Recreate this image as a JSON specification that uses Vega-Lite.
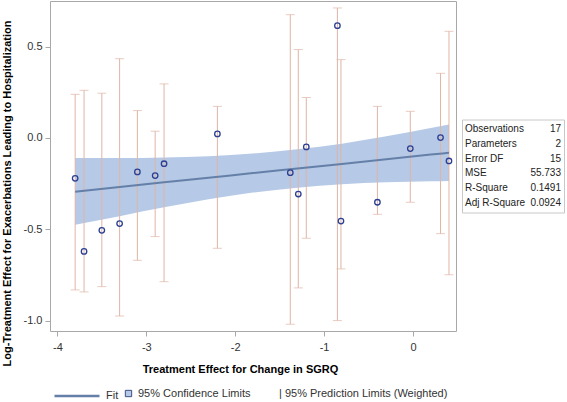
{
  "$schema": "https://vega.github.io/schema/vega-lite/v6.json",
  "padding": 0,
  "background": "white",
  "config": {
    "font": "Liberation Sans",
    "view": {"stroke": "#a8a8a8", "strokeWidth": 1},
    "locale": {"number": {"decimal": ".", "thousands": ",", "grouping": [3], "currency": ["$", ""], "minus": "-"}},
    "axis": {
      "domain": false,
      "grid": false,
      "tickColor": "#a8a8a8",
      "tickSize": 5,
      "labelFont": "Liberation Sans",
      "labelFontSize": 11,
      "labelColor": "#333333",
      "titleFont": "Liberation Sans",
      "titleFontSize": 11,
      "titleFontWeight": "bold",
      "titleColor": "#000000"
    },
    "legend": {
      "title": null,
      "labelFont": "Liberation Sans",
      "labelFontSize": 11,
      "labelColor": "#333333",
      "labelLimit": 400,
      "padding": 0
    }
  },
  "datasets": {
    "pts": [
      {"x": -3.80, "est": -0.221, "ucl": 0.239, "lcl": -0.832},
      {"x": -3.70, "est": -0.621, "ucl": 0.261, "lcl": -0.843},
      {"x": -3.50, "est": -0.506, "ucl": 0.245, "lcl": -0.814},
      {"x": -3.30, "est": -0.469, "ucl": 0.434, "lcl": -0.975},
      {"x": -3.10, "est": -0.186, "ucl": 0.150, "lcl": -0.670},
      {"x": -2.90, "est": -0.206, "ucl": 0.037, "lcl": -0.540},
      {"x": -2.80, "est": -0.141, "ucl": 0.296, "lcl": -0.787},
      {"x": -2.20, "est": 0.022, "ucl": 0.173, "lcl": -0.604},
      {"x": -1.38, "est": -0.190, "ucl": 0.675, "lcl": -1.020},
      {"x": -1.29, "est": -0.307, "ucl": 0.484, "lcl": -0.821},
      {"x": -1.20, "est": -0.049, "ucl": 0.221, "lcl": -0.549},
      {"x": -0.85, "est": 0.615, "ucl": 0.712, "lcl": -1.000},
      {"x": -0.81, "est": -0.455, "ucl": 0.429, "lcl": -0.717},
      {"x": -0.40, "est": -0.352, "ucl": 0.173, "lcl": -0.418},
      {"x": -0.03, "est": -0.058, "ucl": 0.146, "lcl": -0.352},
      {"x": 0.31, "est": 0.002, "ucl": 0.354, "lcl": -0.524},
      {"x": 0.405, "est": -0.126, "ucl": 0.584, "lcl": -0.749}
    ],
    "band": [
      {"x": -3.8, "lower": -0.475, "fit": -0.294, "upper": -0.110},
      {"x": -3.3, "lower": -0.428, "fit": -0.269, "upper": -0.110},
      {"x": -2.8, "lower": -0.380, "fit": -0.243, "upper": -0.107},
      {"x": -2.3, "lower": -0.336, "fit": -0.218, "upper": -0.100},
      {"x": -1.8, "lower": -0.299, "fit": -0.192, "upper": -0.085},
      {"x": -1.3, "lower": -0.272, "fit": -0.167, "upper": -0.062},
      {"x": -0.8, "lower": -0.253, "fit": -0.142, "upper": -0.031},
      {"x": -0.3, "lower": -0.242, "fit": -0.116, "upper": 0.009},
      {"x": 0.2, "lower": -0.237, "fit": -0.091, "upper": 0.055},
      {"x": 0.405, "lower": -0.235, "fit": -0.081, "upper": 0.074}
    ],
    "stats": [
      {"stat": "Observations", "val": "17"},
      {"stat": "Parameters", "val": "2"},
      {"stat": "Error DF", "val": "15"},
      {"stat": "MSE", "val": "55.733"},
      {"stat": "R-Square", "val": "0.1491"},
      {"stat": "Adj R-Square", "val": "0.0924"}
    ]
  },
  "spacing": 6,
  "bounds": "flush",
  "center": true,
  "hconcat": [
    {
      "width": 406,
      "height": 330,
      "layer": [
        {
          "data": {"name": "band"},
          "mark": {"type": "area", "interpolate": "monotone", "opacity": 1},
          "encoding": {
            "x": {
              "field": "x", "type": "quantitative",
              "scale": {"domain": [-4.083, 0.484], "nice": false, "zero": false},
              "axis": {"values": [-4, -3, -2, -1, 0], "format": "d", "labelPadding": 5, "title": "Treatment Effect for Change in SGRQ", "titleX": 190, "titleY": 32, "titleBaseline": "top"}
            },
            "y": {
              "field": "lower", "type": "quantitative",
              "scale": {"domain": [-1.057, 0.75], "nice": false, "zero": false},
              "axis": {"values": [-1, -0.5, 0, 0.5], "format": ".1f", "labelPadding": 3, "title": "Log-Treatment Effect for Exacerbations Leading to Hospitalization", "titlePadding": 11, "titleY": 192}
            },
            "y2": {"field": "upper"},
            "fill": {
              "datum": "95% Confidence Limits", "type": "nominal",
              "scale": {"domain": ["95% Confidence Limits"], "range": ["#b6c9e6"]},
              "legend": {
                "orient": "none", "legendX": 73, "legendY": 387,
                "symbolType": "square", "symbolSize": 40, "symbolStrokeColor": "#3d4f85", "symbolStrokeWidth": 1, "labelOffset": 4
              }
            }
          }
        },
        {
          "data": {"name": "pts"},
          "mark": {"type": "rule", "strokeWidth": 1},
          "encoding": {
            "x": {"field": "x", "type": "quantitative"},
            "y": {"field": "lcl", "type": "quantitative"},
            "y2": {"field": "ucl"},
            "color": {
              "datum": "95% Prediction Limits (Weighted)", "type": "nominal",
              "scale": {"domain": ["95% Prediction Limits (Weighted)"], "range": ["#dfb5a6"]},
              "legend": {
                "orient": "none", "legendX": 218, "legendY": 387,
                "symbolSize": 0, "symbolOpacity": 0, "labelOffset": 0,
                "labelExpr": "'| ' + datum.label"
              }
            }
          }
        },
        {
          "data": {"name": "pts"},
          "mark": {"type": "tick", "orient": "horizontal", "size": 9, "thickness": 1},
          "encoding": {
            "x": {"field": "x", "type": "quantitative"},
            "y": {"field": "lcl", "type": "quantitative"},
            "color": {"datum": "95% Prediction Limits (Weighted)", "type": "nominal"}
          }
        },
        {
          "data": {"name": "pts"},
          "mark": {"type": "tick", "orient": "horizontal", "size": 9, "thickness": 1},
          "encoding": {
            "x": {"field": "x", "type": "quantitative"},
            "y": {"field": "ucl", "type": "quantitative"},
            "color": {"datum": "95% Prediction Limits (Weighted)", "type": "nominal"}
          }
        },
        {
          "data": {"name": "band"},
          "mark": {"type": "line", "strokeWidth": 2, "interpolate": "monotone"},
          "encoding": {
            "x": {"field": "x", "type": "quantitative"},
            "y": {"field": "fit", "type": "quantitative"},
            "stroke": {
              "datum": "Fit", "type": "nominal",
              "scale": {"domain": ["Fit"], "range": ["#6580a8"]},
              "legend": {
                "orient": "none", "legendX": 3, "legendY": 371,
                "symbolType": "stroke", "symbolSize": 2025, "symbolStrokeWidth": 2.5, "labelOffset": 5
              }
            }
          }
        },
        {
          "data": {"name": "pts"},
          "mark": {"type": "point", "shape": "circle", "filled": false, "size": 30, "strokeWidth": 1.3, "color": "#2b3f93", "opacity": 1},
          "encoding": {
            "x": {"field": "x", "type": "quantitative"},
            "y": {"field": "est", "type": "quantitative"}
          }
        }
      ]
    },
    {
      "width": 102,
      "height": 93,
      "view": {"stroke": "#c8c8c8"},
      "data": {"name": "stats"},
      "encoding": {
        "y": {"field": "stat", "type": "ordinal", "sort": null, "scale": {"type": "point", "padding": 0.67}, "axis": null}
      },
      "layer": [
        {
          "mark": {"type": "text", "align": "left", "baseline": "middle", "fontSize": 10, "color": "#222222", "font": "Liberation Sans"},
          "encoding": {
            "x": {"datum": "label", "type": "ordinal", "scale": {"type": "point", "domain": ["label", "value"], "padding": 0.03125}, "axis": null},
            "text": {"field": "stat"}
          }
        },
        {
          "mark": {"type": "text", "align": "right", "baseline": "middle", "fontSize": 10, "color": "#222222", "font": "Liberation Sans"},
          "encoding": {
            "x": {"datum": "value", "type": "ordinal"},
            "text": {"field": "val"}
          }
        }
      ]
    }
  ]
}
